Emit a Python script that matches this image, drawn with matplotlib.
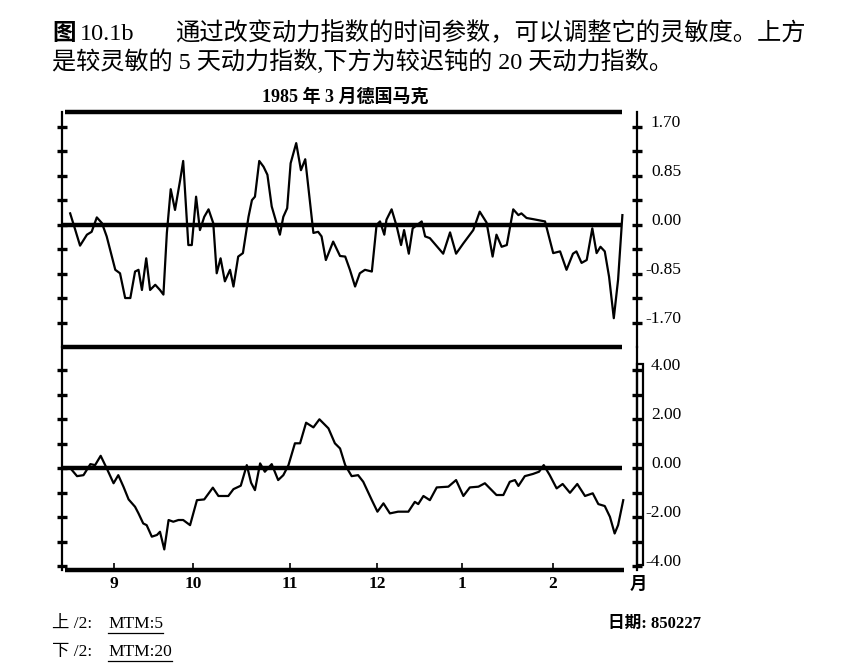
import numpy as np
import matplotlib
matplotlib.use("Agg")
from matplotlib import pyplot as plt
from matplotlib import transforms
from matplotlib.lines import Line2D
from matplotlib.patches import Rectangle

SERIF = ["Liberation Serif", "Noto Sans CJK SC"]
CJK = ["Noto Sans CJK SC", "Liberation Serif"]

W, H = 846, 663

# x is a trading-day index, mid-August 1984 .. 27 Feb 1985
month_pos = [10.2, 28.6, 51.2, 71.4, 91.2, 112.3]
month_labels = ["9", "10", "11", "12", "1", "2"]

# 5-day momentum (upper panel)
mtm5_days = [0.0, 1.2, 2.3, 3.9, 5.0, 6.2, 7.4, 8.5, 10.5, 11.6, 12.8, 14.0, 15.1, 15.9,
             16.7, 17.7, 18.6, 19.8, 20.9, 21.7, 22.5, 23.4, 24.4, 25.6, 26.3, 27.5, 28.3,
             29.3, 30.2, 31.2, 32.2, 33.3, 34.1, 35.0, 36.0, 37.2, 38.0, 39.1, 40.2, 41.5,
             42.3, 43.0, 44.0, 45.0, 45.9, 46.9, 48.8, 49.6, 50.5, 51.3, 52.6, 53.7, 54.7,
             55.8, 56.6, 57.7, 58.5, 59.5, 61.2, 62.8, 64.0, 65.1, 66.3, 67.4, 68.6, 70.2,
             71.3, 72.1, 73.1, 73.6, 74.8, 76.0, 77.0, 77.7, 78.8, 79.7, 81.8, 82.6, 83.7,
             86.8, 88.4, 89.8, 91.5, 93.8, 95.3, 96.9, 98.3, 99.2, 100.4, 101.6, 103.1,
             104.3, 105.0, 106.2, 107.7, 110.5, 112.4, 114.0, 115.5, 117.0, 117.8, 119.0,
             120.2, 121.5, 122.5, 123.4, 124.4, 125.4, 126.5, 127.5, 128.5]
mtm5_vals = [0.20, -0.09, -0.36, -0.17, -0.12, 0.13, 0.03, -0.20, -0.78, -0.84, -1.27, -1.27,
             -0.81, -0.78, -1.13, -0.58, -1.13, -1.04, -1.13, -1.21, -0.14, 0.62, 0.26, 0.78,
             1.11, -0.35, -0.35, 0.49, -0.09, 0.14, 0.27, 0.03, -0.84, -0.58, -0.98, -0.78,
             -1.07, -0.55, -0.49, 0.14, 0.43, 0.49, 1.11, 1.01, 0.87, 0.32, -0.17, 0.14, 0.29,
             1.07, 1.42, 0.95, 1.14, 0.40, -0.14, -0.12, -0.20, -0.61, -0.29, -0.54, -0.55,
             -0.78, -1.07, -0.84, -0.78, -0.81, 0.00, 0.06, -0.17, 0.09, 0.27, -0.03, -0.35,
             -0.09, -0.50, -0.06, 0.06, -0.20, -0.23, -0.50, -0.13, -0.50, -0.32, -0.09, 0.23,
             0.04, -0.55, -0.17, -0.38, -0.35, 0.27, 0.17, 0.20, 0.12, 0.10, 0.06, -0.49,
             -0.46, -0.78, -0.50, -0.46, -0.66, -0.61, -0.06, -0.49, -0.38, -0.46, -0.90,
             -1.62, -0.95, 0.17]

# 20-day momentum (lower panel)
mtm20_days = [0.4, 1.6, 3.1, 4.7, 5.8, 7.1, 8.5, 10.1, 11.2, 12.4, 13.6, 15.1, 15.9, 17.0,
              17.8, 19.0, 20.2, 20.9, 21.9, 22.9, 24.0, 25.2, 26.3, 27.9, 29.5, 31.2, 33.2,
              34.5, 36.8, 38.0, 39.7, 41.1, 42.1, 43.0, 44.2, 45.3, 46.9, 48.4, 49.6, 50.8,
              52.3, 53.5, 54.9, 56.6, 58.0, 60.1, 61.6, 62.8, 64.0, 65.5, 67.0, 68.2, 70.2,
              71.5, 72.9, 74.4, 76.3, 78.7, 80.2, 81.0, 82.2, 83.7, 85.3, 88.0, 89.8, 91.5,
              93.0, 95.0, 96.5, 99.2, 100.8, 102.3, 103.5, 104.3, 105.8, 107.7, 109.1, 110.2,
              111.6, 113.2, 114.6, 116.3, 118.0, 119.8, 121.6, 122.9, 124.4, 125.6, 126.7,
              127.5, 128.7]
mtm20_vals = [-0.08, -0.33, -0.29, 0.16, 0.12, 0.50, -0.01, -0.62, -0.29, -0.76, -1.28, -1.58,
              -1.85, -2.26, -2.33, -2.80, -2.73, -2.60, -3.32, -2.12, -2.19, -2.12, -2.12,
              -2.33, -1.31, -1.28, -0.80, -1.14, -1.14, -0.86, -0.72, 0.12, -0.60, -0.90, 0.19,
              -0.15, 0.16, -0.49, -0.29, 0.12, 1.01, 1.01, 1.85, 1.66, 1.99, 1.62, 1.01, 0.80,
              0.12, -0.33, -0.29, -0.56, -1.31, -1.78, -1.44, -1.85, -1.78, -1.78, -1.38, -1.47,
              -1.14, -1.31, -0.79, -0.76, -0.49, -1.14, -0.79, -0.76, -0.62, -1.10, -1.10,
              -0.56, -0.49, -0.73, -0.33, -0.24, -0.15, 0.12, -0.29, -0.83, -0.65, -1.01,
              -0.65, -1.14, -1.03, -1.47, -1.55, -1.99, -2.67, -2.33, -1.31]

top_ticks = [1.70, 0.85, 0.00, -0.85, -1.70]
top_tick_labels = ["1.70", "0.85", "0.00", "-0.85", "-1.70"]
bottom_ticks = [4.0, 2.0, 0.0, -2.0, -4.0]
bottom_tick_labels = ["4.00", "2.00", "0.00", "-2.00", "-4.00"]

XLIM = (-1.9, 131.9)
LINE_END = 128.4


def fx(px):
    return px / W


def fy(py):
    return 1 - py / H


def setup_panel(fig, ax, ylim, ticks, labels):
    ax.patch.set_visible(False)
    ax.set_xlim(*XLIM)
    ax.set_ylim(*ylim)
    for side in ("top", "bottom"):
        ax.spines[side].set_visible(False)
    for side in ("left", "right"):
        ax.spines[side].set_linewidth(1.6)
    ax.set_xticks([])
    ax.set_yticks(np.linspace(min(ticks), max(ticks), 9))
    ax.tick_params(axis="y", direction="inout", length=7, width=2.4,
                   left=True, right=True, labelleft=False, labelright=False)
    ax.hlines(0, XLIM[0], LINE_END, color="black", lw=3.2, clip_on=False, zorder=3)
    trans = transforms.blended_transform_factory(fig.transFigure, ax.transData)
    trans = transforms.offset_copy(trans, fig=fig, y=4, units="dots")
    for v, lab in zip(ticks, labels):
        ax.text(fx(681), v, lab, transform=trans, ha="right", va="center",
                fontsize=12.5, family=SERIF)


fig = plt.figure(figsize=(W / 100, H / 100), dpi=100)

ax1 = fig.add_axes([fx(62), fy(347), fx(637) - fx(62), (347 - 112) / H])
ax2 = fig.add_axes([fx(62), fy(570), fx(637) - fx(62), (570 - 347) / H])

top_lim = (-2.12, 1.96)
bot_lim = (-4.16, 4.94)
setup_panel(fig, ax1, top_lim, top_ticks, top_tick_labels)
setup_panel(fig, ax2, bot_lim, bottom_ticks, bottom_tick_labels)

ax1.plot(mtm5_days, mtm5_vals, color="black", lw=1.6, zorder=4)
ax2.plot(mtm20_days, mtm20_vals, color="black", lw=1.6, zorder=4)

# frame lines
ax1.hlines(top_lim[1], -1.2, LINE_END, color="black", lw=3.2, clip_on=False)
ax1.hlines(top_lim[0], XLIM[0], LINE_END, color="black", lw=3.2, clip_on=False)
ax2.hlines(bot_lim[0], -1.2, 128.8, color="black", lw=3.2, clip_on=False)

ax2.set_xticks(month_pos)
ax2.set_xticklabels(month_labels, fontsize=12.5, fontweight="bold", family=SERIF)
ax2.tick_params(axis="x", direction="in", length=5, width=1.2, pad=4)

# little scroll box next to the lower scale
fig.patches.append(Rectangle((fx(637), fy(565)), 6 / W, (565 - 364) / H,
                             transform=fig.transFigure, fill=False, lw=1.6,
                             edgecolor="black"))

# captions
fig.text(fx(52), fy(33), "图", fontsize=17, fontweight="bold", family=CJK,
         ha="left", va="center")
fig.text(fx(80), fy(34), "10.1b", fontsize=17.5, family=SERIF, ha="left", va="center")
fig.text(fx(175), fy(33), "通过改变动力指数的时间参数，可以调整它的灵敏度。上方",
         fontsize=17.5, family=CJK, ha="left", va="center")
fig.text(fx(52), fy(62), "是较灵敏的 5 天动力指数,下方为较迟钝的 20 天动力指数。",
         fontsize=17.4, family=SERIF, ha="left", va="center")
fig.text(fx(345), fy(97), "1985 年 3 月德国马克", fontsize=13, fontweight="bold",
         family=SERIF, ha="center", va="center")

fig.text(fx(638), fy(584), "月", fontsize=12.5, fontweight="bold", family=CJK,
         ha="center", va="center")
fig.text(fx(52), fy(624), "上 /2:", fontsize=12.5, family=SERIF, ha="left", va="center")
fig.text(fx(52), fy(652), "下 /2:", fontsize=12.5, family=SERIF, ha="left", va="center")
mtm_a = fig.text(fx(108), fy(624), "MTM:5", fontsize=12.5, family=SERIF,
                 ha="left", va="center")
mtm_b = fig.text(fx(108), fy(652), "MTM:20", fontsize=12.5, family=SERIF,
                 ha="left", va="center")
fig.text(fx(701), fy(624), "日期: 850227", fontsize=12, fontweight="bold", family=SERIF,
         ha="right", va="center")

# underline the indicator names
fig.canvas.draw()
for t in (mtm_a, mtm_b):
    bb = t.get_window_extent()
    yy = (bb.y0 - 1) / H
    fig.lines.append(Line2D([bb.x0 / W, bb.x1 / W], [yy, yy], transform=fig.transFigure,
                            color="black", lw=0.9))

fig.savefig("out.png", dpi=100, facecolor="white")
